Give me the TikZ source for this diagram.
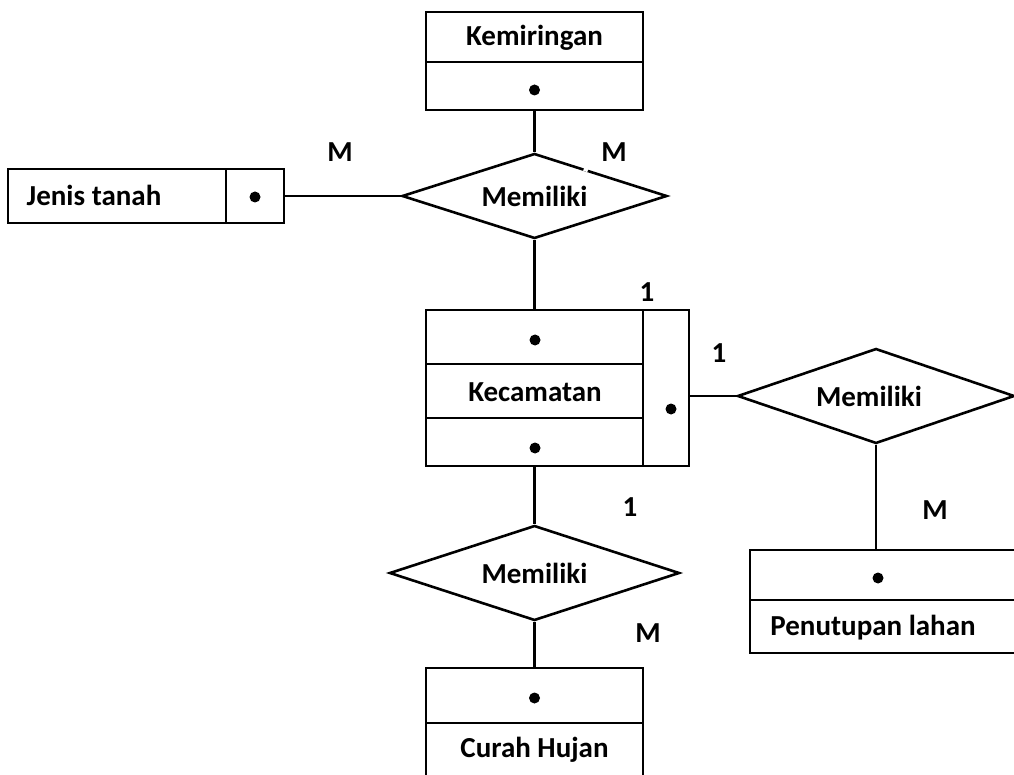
\documentclass[tikz,border=0pt]{standalone}
\usepackage{fontspec}
\setmainfont{Carlito}
\usetikzlibrary{shapes.geometric,calc}
\begin{document}
\begin{tikzpicture}[x=1pt,y=-1pt,
  every node/.style={font=\fontsize{29}{34}\selectfont\bfseries},
  ln/.style={line width=2.4pt},
  ebox/.style={draw,line width=2.4pt,rectangle,inner sep=0pt},
  rel/.style={draw,line width=2.6pt,diamond,aspect=3,inner sep=0pt},
  key/.style={fill=black,circle,inner sep=0pt,minimum size=11pt},
  card/.style={inner sep=1pt}]
\useasboundingbox (0,0) rectangle (1014,775);
\clip (0,0) rectangle (1014,775);
\fill[white] (0,0) rectangle (1014,775);

% Kemiringan
\node[ebox,minimum width=217pt,minimum height=98pt] (kem) at (534.5,61) {};
\draw[ln] (426,62) -- (643,62);
\node (kemT) at (534.5,38) {Kemiringan};
\node[key] (kemK) at (534.5,90) {};

% Jenis tanah
\node[ebox,minimum width=276pt,minimum height=54pt] (jen) at (146,196) {};
\draw[ln] (226,169) -- (226,223);
\node (jenT) at (94,195) {Jenis tanah};
\node[key] (jenK) at (255,197) {};

% Kecamatan
\node[ebox,minimum width=217pt,minimum height=156pt] (kec) at (534.5,388) {};
\node[ebox,minimum width=46pt,minimum height=156pt] (kecR) at (666,388) {};
\draw[ln] (426,364) -- (643,364);
\draw[ln] (426,418) -- (643,418);
\node[key] (kecK1) at (535,340) {};
\node (kecT) at (535,392) {Kecamatan};
\node[key] (kecK2) at (535,448) {};
\node[key] (kecK3) at (671,409) {};

% Penutupan lahan
\node[ebox,minimum width=280pt,minimum height=103pt] (pen) at (890,601.5) {};
\draw[ln] (750,600) -- (1030,600);
\node[key] (penK) at (878,578) {};
\node (penT) at (873,628) {Penutupan lahan};

% Curah Hujan
\node[ebox,minimum width=217pt,minimum height=120pt] (cur) at (534.5,728) {};
\draw[ln] (426,723) -- (643,723);
\node[key] (curK) at (534.5,698) {};
\node (curT) at (534.5,750) {Curah Hujan};

% Relationships
\node[rel,minimum width=265pt,minimum height=85pt] (r1) at (534.5,196) {Memiliki};
\node[rel,minimum width=277pt,minimum height=95pt] (r2) at (876,396) {\hspace*{-14pt}Memiliki};
\node[rel,minimum width=290pt,minimum height=95pt] (r3) at (534.5,573) {Memiliki};

% Connectors
\draw[ln] (kem.south) -- (r1.north);
\draw[ln] (jen.east) -- (r1.west);
\draw[ln] (r1.south) -- (kec.north);
\draw[ln] (r2.west -| kecR.east) -- (r2.west);
\draw[ln] (r2.south) -- (r2.south |- pen.north);
\draw[ln] (kec.south) -- (r3.north);
\draw[ln] (r3.south) -- (cur.north);
\draw[white,line width=5pt] ($(r1.north)!0.37!(r1.east)$) -- ($(r1.north)!0.40!(r1.east)$);

% Cardinalities
\node[card] (c1) at (340,152) {M};
\node[card] (c2) at (614,152) {M};
\node[card] (c3) at (647,292) {1};
\node[card] (c4) at (719,353) {1};
\node[card] (c5) at (630,507) {1};
\node[card] (c6) at (648,633) {M};
\node[card] (c7) at (935,510) {M};
\end{tikzpicture}
\end{document}
